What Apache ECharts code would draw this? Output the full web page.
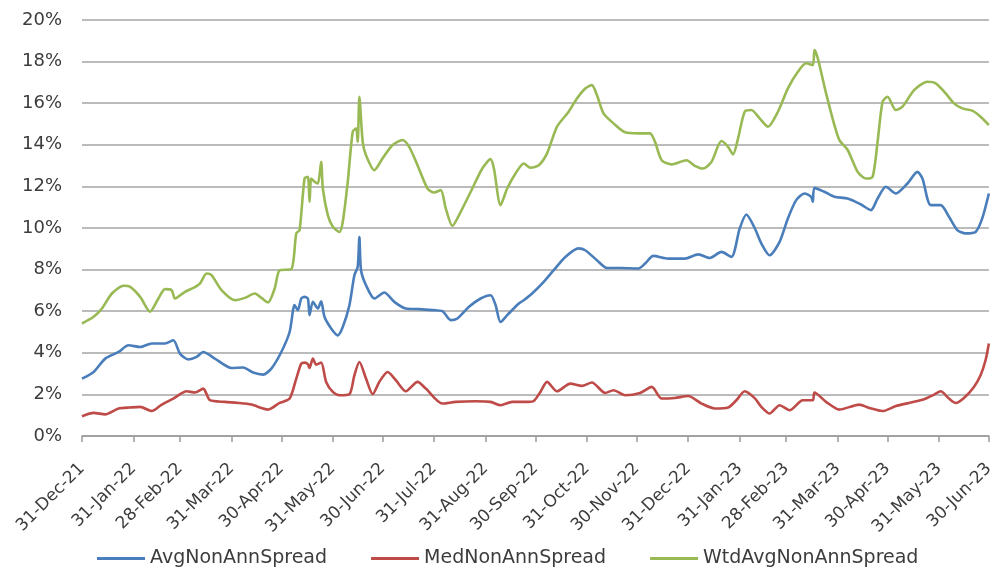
<!DOCTYPE html>
<html lang="en">
<head>
    <meta charset="UTF-8">
    <title>NonAnn Spread</title>
    <script type="text/javascript" src="https://cdn.jsdelivr.net/npm/echarts@6.0.0/dist/echarts.min.js"></script>
    <style>
        html, body { margin: 0; padding: 0; background: #fff; }
    </style>
</head>
<body>
<div id="spread" style="width:997px; height:571px;"></div>
<script>
    // x positions are days counted from 31-Dec-21
    var tickDays = [0, 31, 59, 90, 120, 151, 181, 212, 243, 273, 304, 334, 365, 396, 424, 455, 485, 516, 546];
    var tickLabels = ['31-Dec-21', '31-Jan-22', '28-Feb-22', '31-Mar-22', '30-Apr-22', '31-May-22', '30-Jun-22',
        '31-Jul-22', '31-Aug-22', '30-Sep-22', '31-Oct-22', '30-Nov-22', '31-Dec-22', '31-Jan-23', '28-Feb-23',
        '31-Mar-23', '30-Apr-23', '31-May-23', '30-Jun-23'];

    var avgDays = [0, 7, 14, 22, 28, 35, 42, 50, 55, 59, 64, 69, 73, 80, 90, 97, 103, 109, 114, 120, 125, 128, 130, 132,
        134, 136, 137, 139, 142, 144, 146, 150, 154, 157, 161, 164, 166, 167, 168, 171, 176, 182, 188, 195, 203, 211,
        217, 222, 226, 233, 240, 246, 249, 252, 256, 263, 266, 271, 278, 284, 291, 299, 303, 310, 316, 325, 335, 339,
        344, 353, 363, 371, 378, 385, 391, 396, 400, 405, 409, 414, 420, 425, 430, 435, 439, 440, 441, 447, 453, 461,
        469, 475, 479, 484, 490, 497, 503, 506, 511, 517, 522, 527, 532, 538, 542, 546];
    var avgVals = [2.76, 3.08, 3.72, 4.04, 4.36, 4.28, 4.45, 4.45, 4.6, 3.96, 3.68, 3.8, 4.04, 3.72, 3.27, 3.29, 3.05,
        2.95, 3.24, 4.04, 5.0, 6.29, 6.05, 6.61, 6.69, 6.61, 5.81, 6.45, 6.13, 6.48, 5.73, 5.17, 4.84, 5.24, 6.29, 7.73,
        8.13, 9.57, 7.97, 7.25, 6.61, 6.9, 6.45, 6.13, 6.1, 6.05, 6.0, 5.57, 5.65, 6.21, 6.61, 6.77, 6.29, 5.48, 5.81,
        6.37, 6.53, 6.85, 7.41, 7.97, 8.61, 9.02, 8.93, 8.45, 8.08, 8.08, 8.05, 8.29, 8.66, 8.53, 8.53, 8.73, 8.56, 8.85,
        8.61, 9.98, 10.65, 10.0, 9.26, 8.69, 9.33, 10.46, 11.34, 11.66, 11.5, 11.26, 11.93, 11.74, 11.5, 11.42, 11.13,
        10.86, 11.42, 11.98, 11.66, 12.14, 12.7, 12.38, 11.1, 11.1, 10.54, 9.9, 9.74, 9.81, 10.46, 11.66];

    var medDays = [0, 7, 14, 22, 29, 35, 42, 48, 55, 63, 68, 73, 77, 86, 94, 102, 112, 119, 125, 129, 132, 134, 136, 137,
        139, 141, 144, 147, 151, 155, 161, 164, 167, 171, 175, 179, 184, 189, 195, 202, 207, 217, 225, 237, 246, 252,
        259, 269, 272, 276, 280, 286, 294, 301, 307, 315, 320, 327, 336, 343, 349, 357, 365, 373, 381, 389, 394, 399,
        405, 409, 414, 420, 426, 434, 440, 441, 448, 456, 468, 474, 482, 490, 499, 507, 513, 517, 522, 526, 531, 537,
        541, 544, 546];
    var medVals = [0.95, 1.11, 1.04, 1.32, 1.37, 1.4, 1.2, 1.51, 1.8, 2.15, 2.09, 2.28, 1.72, 1.64, 1.59, 1.51, 1.27,
        1.59, 1.8, 2.76, 3.48, 3.53, 3.45, 3.27, 3.72, 3.43, 3.53, 2.6, 2.12, 1.96, 2.01, 2.92, 3.56, 2.76, 2.01, 2.6,
        3.08, 2.68, 2.15, 2.6, 2.28, 1.56, 1.64, 1.67, 1.64, 1.48, 1.64, 1.64, 1.68, 2.12, 2.6, 2.15, 2.52, 2.41, 2.57,
        2.07, 2.2, 1.96, 2.07, 2.36, 1.8, 1.83, 1.92, 1.56, 1.32, 1.37, 1.72, 2.15, 1.82, 1.4, 1.08, 1.48, 1.24, 1.72,
        1.72, 2.09, 1.64, 1.27, 1.51, 1.35, 1.2, 1.44, 1.61, 1.77, 1.99, 2.15, 1.8, 1.59, 1.83, 2.36, 2.92, 3.64, 4.45];

    var wtdDays = [0, 7, 12, 18, 25, 29, 35, 41, 46, 50, 54, 56, 62, 67, 71, 75, 78, 84, 92, 98, 104, 108, 112, 116, 119,
        126, 129, 131, 134, 136, 137, 138, 140, 142, 144, 145, 148, 151, 155, 157, 160, 163, 165, 166, 167, 169, 171,
        176, 181, 187, 193, 197, 202, 208, 212, 216, 219, 223, 227, 235, 241, 246, 248, 252, 256, 261, 266, 270, 275,
        280, 286, 293, 298, 303, 307, 310, 314, 320, 327, 335, 342, 345, 349, 355, 364, 369, 374, 379, 385, 389, 392,
        395, 399, 403, 408, 413, 419, 425, 431, 436, 440, 441, 443, 448, 453, 456, 461, 467, 472, 476, 479, 482, 485,
        490, 494, 501, 509, 514, 520, 525, 530, 536, 541, 546];
    var wtdVals = [5.41, 5.73, 6.13, 6.85, 7.22, 7.17, 6.69, 5.98, 6.61, 7.06, 7.01, 6.61, 6.93, 7.12, 7.33, 7.81, 7.73,
        7.01, 6.53, 6.64, 6.85, 6.64, 6.42, 7.09, 7.97, 8.02, 9.74, 9.9, 12.38, 12.46, 11.26, 12.38, 12.22, 12.14, 13.18,
        11.9, 10.62, 10.06, 9.81, 10.3, 12.22, 14.63, 14.79, 14.14, 16.31, 14.14, 13.5, 12.78, 13.35, 13.99, 14.23, 13.9,
        13.02, 11.9, 11.71, 11.82, 10.94, 10.1, 10.62, 11.9, 12.86, 13.31, 12.86, 11.1, 11.9, 12.62, 13.1, 12.9, 13.02,
        13.59, 14.87, 15.59, 16.23, 16.71, 16.87, 16.39, 15.51, 15.03, 14.6, 14.55, 14.55, 14.14, 13.26, 13.06, 13.26,
        12.99, 12.86, 13.18, 14.18, 13.9, 13.54, 14.31, 15.59, 15.67, 15.27, 14.87, 15.59, 16.71, 17.51, 17.92, 17.83,
        18.56, 18.16, 16.47, 14.95, 14.23, 13.75, 12.7, 12.38, 12.46, 14.14, 16.07, 16.31, 15.67, 15.83, 16.63, 17.03,
        16.95, 16.47, 15.99, 15.75, 15.64, 15.35, 14.95];

    function pairs(days, vals) {
        var out = [];
        for (var i = 0; i < days.length; i++) {
            out.push([days[i], vals[i]]);
        }
        return out;
    }

    var chart = echarts.init(document.getElementById('spread'));
    var textColor = '#3c3c3c';
    var font = 'DejaVu Sans';

    var lineSeries = function (name, color, data) {
        return {
            name: name,
            type: 'line',
            data: data,
            symbol: 'none',
            smooth: 0.25,
            lineStyle: {color: color, width: 2.6},
            itemStyle: {color: color}
        };
    };

    var option = {
        animation: false,
        grid: {left: 82, right: 7, top: 20, bottom: 135},
        legend: {
            left: 92,
            bottom: -2,
            icon: 'rect',
            itemWidth: 48,
            itemHeight: 3,
            itemGap: 44,
            textStyle: {fontFamily: font, fontSize: 19, color: textColor},
            data: ['AvgNonAnnSpread', 'MedNonAnnSpread', 'WtdAvgNonAnnSpread']
        },
        xAxis: {
            type: 'value',
            min: 0,
            max: 546,
            splitLine: {show: false},
            axisLine: {lineStyle: {color: '#9a9a9a', width: 1.5}},
            axisTick: {
                show: true,
                length: 6,
                customValues: tickDays,
                lineStyle: {color: '#9a9a9a', width: 1.5}
            },
            axisLabel: {
                customValues: tickDays,
                rotate: 45,
                margin: 30,
                fontFamily: font,
                fontSize: 17,
                color: textColor,
                formatter: function (v) {
                    var i = tickDays.indexOf(v);
                    return i >= 0 ? tickLabels[i] : '';
                }
            }
        },
        yAxis: {
            type: 'value',
            min: 0,
            max: 20,
            interval: 2,
            axisLine: {show: false},
            axisTick: {show: false},
            splitLine: {lineStyle: {color: '#a4a4a4', width: 1.6}},
            axisLabel: {
                formatter: '{value}%',
                margin: 20,
                fontFamily: font,
                fontSize: 18,
                color: textColor
            }
        },
        series: [
            lineSeries('AvgNonAnnSpread', '#4a7ebb', pairs(avgDays, avgVals)),
            lineSeries('MedNonAnnSpread', '#be4b48', pairs(medDays, medVals)),
            lineSeries('WtdAvgNonAnnSpread', '#98b954', pairs(wtdDays, wtdVals))
        ]
    };
    chart.setOption(option);
</script>
</body>
</html>
